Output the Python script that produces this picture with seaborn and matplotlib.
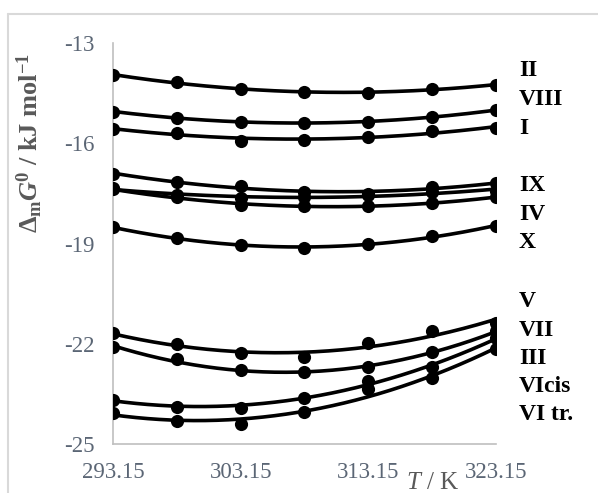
import numpy as np
import pandas as pd
import matplotlib
matplotlib.use("Agg")
import matplotlib.pyplot as plt
from matplotlib.lines import Line2D
import seaborn as sns

# Temperatures (K) and Gibbs energies of micellization (kJ/mol)
temps = [293.15, 298.15, 303.15, 308.15, 313.15, 318.15, 323.15]

g_II    = [-13.96, -14.17, -14.37, -14.47, -14.50, -14.37, -14.25]
g_VIII  = [-15.05, -15.25, -15.35, -15.38, -15.37, -15.22, -15.00]
g_I     = [-15.57, -15.68, -15.93, -15.90, -15.80, -15.63, -15.55]
g_IX    = [-16.91, -17.16, -17.29, -17.45, -17.52, -17.30, -17.20]
g_IV    = [-17.34, -17.56, -17.64, -17.62, -17.56, -17.45, -17.42]
g_V     = [-17.38, -17.62, -17.84, -17.88, -17.88, -17.78, -17.62]
g_X     = [-18.51, -18.85, -19.05, -19.13, -19.01, -18.78, -18.48]
g_VII   = [-21.69, -22.01, -22.29, -22.41, -21.99, -21.62, -21.37]
g_III   = [-22.11, -22.46, -22.79, -22.86, -22.71, -22.25, -21.62]
g_VIcis = [-23.68, -23.88, -23.91, -23.61, -23.11, -22.71, -21.84]
g_VItr  = [-24.07, -24.30, -24.40, -24.05, -23.36, -23.01, -22.16]

series_names = ["II", "VIII", "I", "IX", "IV", "V", "X", "VII", "III", "VIcis", "VI tr."]
series_values = [g_II, g_VIII, g_I, g_IX, g_IV, g_V, g_X, g_VII, g_III, g_VIcis, g_VItr]

x_ticks = [293.15, 303.15, 313.15, 323.15]
y_ticks = [-13, -16, -19, -22, -25]

# right-hand legend text and its vertical placement (data units)
label_texts = ["II", "VIII", "I", "IX", "IV", "X", "V", "VII", "III", "VIcis", "VI tr."]
label_y = [-13.81, -14.70, -15.57, -17.27, -18.13, -18.97, -20.73, -21.60, -22.43, -23.27, -24.13]

# ---- tidy tables --------------------------------------------------------
points = pd.DataFrame(
    [(n, t, g) for n, vals in zip(series_names, series_values) for t, g in zip(temps, vals)],
    columns=["series", "T", "G"],
)

# second-order polynomial trend line for each series
t_grid = np.linspace(temps[0], temps[-1], 200)
fit_rows = []
for n, vals in zip(series_names, series_values):
    coef = np.polyfit(np.array(temps) - 308.15, vals, 2)
    for t, g in zip(t_grid, np.polyval(coef, t_grid - 308.15)):
        fit_rows.append((n, t, g))
trend = pd.DataFrame(fit_rows, columns=["series", "T", "G"])

# ---- figure -------------------------------------------------------------
sns.set_style("white")
plt.rcParams["font.family"] = ["Liberation Serif", "DejaVu Serif"]
plt.rcParams["mathtext.fontset"] = "custom"
plt.rcParams["mathtext.rm"] = "Liberation Serif:bold"
plt.rcParams["mathtext.it"] = "Liberation Serif:italic"
plt.rcParams["mathtext.bf"] = "Liberation Serif:bold"
plt.rcParams["mathtext.bfit"] = "Liberation Serif:italic:bold"

fig = plt.figure(figsize=(5.98, 4.93), dpi=100)
ax = fig.add_axes([113 / 598, 1 - 444 / 493, (496 - 113) / 598, (444 - 43) / 493])

sns.lineplot(data=trend, x="T", y="G", units="series", estimator=None,
             color="black", linewidth=2.6, ax=ax, legend=False)
sns.scatterplot(data=points, x="T", y="G", color="black", s=90,
                edgecolor="black", linewidth=0, ax=ax, legend=False, zorder=3)

ax.set_xlim(temps[0], temps[-1])
ax.set_ylim(-25, -13)
ax.set_xticks(x_ticks)
ax.set_xticklabels([f"{v:.2f}" for v in x_ticks])
ax.set_yticks(y_ticks)
ax.set_yticklabels([str(v) for v in y_ticks])

tick_color = "#5b6675"
ax.tick_params(axis="both", length=0, labelsize=16.5, colors=tick_color)
ax.tick_params(axis="x", pad=13)
ax.tick_params(axis="y", pad=13)

for side in ("top", "right"):
    ax.spines[side].set_visible(False)
for side in ("left", "bottom"):
    ax.spines[side].set_color("#bfbfbf")
    ax.spines[side].set_linewidth(1.2)

ax.set_ylabel(r"$\Delta_{\mathbf{m}}\mathbfit{G}^{\mathbf{0}}$ / kJ mol$^{\mathbf{-1}}$",
              fontsize=19, fontweight="bold", color="#595959")
ax.yaxis.set_label_coords((45 - 113) / 383, (444 - 143) / 401)

ax.set_xlabel(r"$\mathit{T}$ / K", fontsize=18, color="#595959")
ax.xaxis.set_label_coords((433 - 113) / 383, (444 - 472) / 401)

x_lab = temps[-1] + (519 - 496) / 383 * (temps[-1] - temps[0])
for txt, y in zip(label_texts, label_y):
    ax.text(x_lab, y, txt, fontsize=17, fontweight="bold", color="black",
            ha="left", va="center", clip_on=False)

# outer chart frame (left and top edges)
fig.add_artist(Line2D([8 / 598, 8 / 598], [0, 1 - 14 / 493], transform=fig.transFigure,
                      color="#d9d9d9", linewidth=1.5))
fig.add_artist(Line2D([8 / 598, 1], [1 - 14 / 493, 1 - 14 / 493], transform=fig.transFigure,
                      color="#d9d9d9", linewidth=1.5))

fig.savefig("out.png", dpi=100)
